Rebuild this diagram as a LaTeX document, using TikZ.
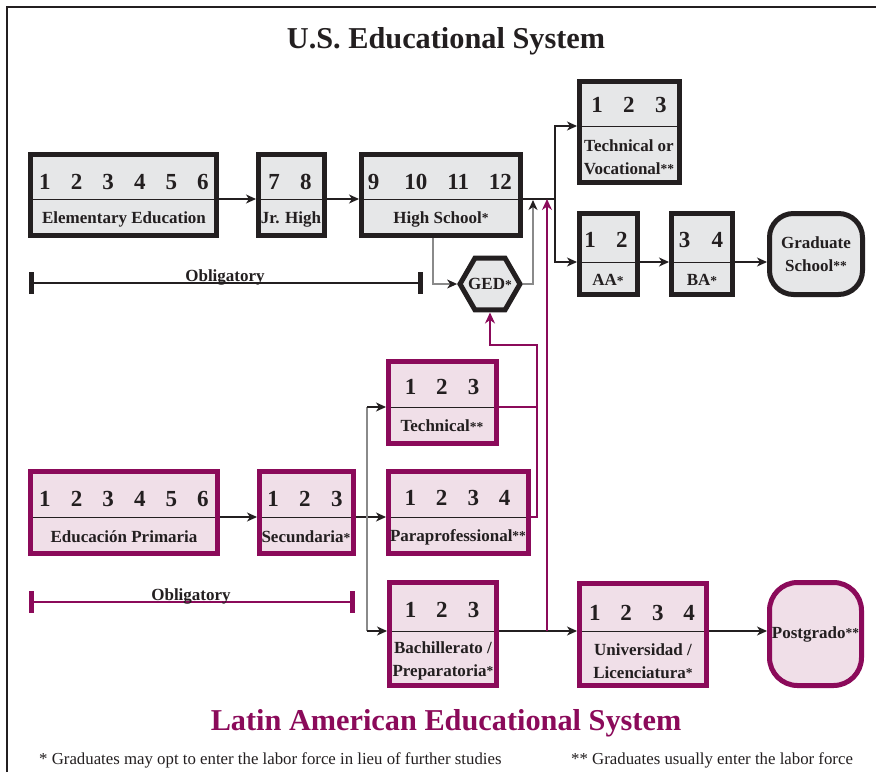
\documentclass[tikz,border=0pt]{standalone}
\usepackage{fontspec}
\setmainfont{Liberation Serif}
\usetikzlibrary{arrows.meta,calc,shapes.geometric}
\definecolor{ink}{HTML}{231F20}
\definecolor{usfill}{HTML}{E6E7E8}
\definecolor{mag}{HTML}{8B0A5A}
\definecolor{lafill}{HTML}{F0DFE8}
\definecolor{lgray}{HTML}{8A8A8A}
\newcommand\nums[2]{\foreach \d in {#2}{\makebox[#1]{\d}}}
\newcommand\astk{{\fontsize{13.5}{13.5}\selectfont\raisebox{0.5pt}{*}}}
\newcommand\mkbox[7]{%
  \node[#1, minimum width={#5-#3-5}, minimum height={#6-#4-5}] (#2) at ({(#3+#5)/2},{(#4+#6)/2}) {};
  \coordinate (#2-w) at (#3,#7);
  \coordinate (#2-e) at (#5,#7);
  \draw[divline] (#2-w) -- (#2-e);
}
\begin{document}
\begin{tikzpicture}[x=1pt,y=-1pt,
  box/.style={line width=5pt, inner sep=0pt, outer sep=2.5pt},
  usbox/.style={box, draw=ink, fill=usfill},
  labox/.style={box, draw=mag, fill=lafill},
  divline/.style={draw=ink, line width=1pt, shorten <=5pt, shorten >=5pt},
  numtxt/.style={font=\fontsize{23}{23}\selectfont\bfseries, text=ink, inner sep=0pt},
  labtxt/.style={font=\fontsize{17}{22.5}\selectfont\bfseries, text=ink, inner sep=0pt, align=center},
  tip/.style={-{Stealth[length=10pt,width=9pt,inset=3pt,color=ink]}},
  conn/.style={draw=ink, line width=1.1pt, tip},
  gconn/.style={draw=lgray, line width=1.1pt},
  mconn/.style={draw=mag, line width=1.3pt},
  mtip/.style={-{Stealth[length=11pt,width=10pt,inset=3.5pt]}},
  oblbar/.style={line width=5pt},
  foot/.style={font=\fontsize{16.8}{16.8}\selectfont, text=ink, anchor=west, inner sep=0pt},
  title/.style={font=\fontsize{30.3}{30.3}\selectfont\bfseries},
]
\useasboundingbox (0,0) rectangle (876,772);
\fill[white] (0,0) rectangle (876,772);
% frame
\draw[ink, line width=2.5pt] (7,772) -- (7,7) -- (876,7);

% titles
\node[title, text=ink] (t1) at (446,41) {U.S. Educational System};
\node[title, text=mag] (t2) at (446,723.5) {Latin American Educational System};

% US boxes
\mkbox{usbox}{elem}{28}{152}{219}{238}{199}
\mkbox{usbox}{jr}{256}{152}{327}{238}{199}
\mkbox{usbox}{hs}{359}{152}{523}{238}{199}
\mkbox{usbox}{tv}{577}{79}{682}{185}{126}
\mkbox{usbox}{aa}{577}{211}{640}{297}{262}
\mkbox{usbox}{ba}{669}{211}{735}{297}{262}
\node[usbox, rounded corners=24pt, minimum width=93, minimum height=81, labtxt] (grad) at (816,254) {Graduate\\School\astk\astk};
\node[usbox, regular polygon, regular polygon sides=6, minimum size=60pt] (ged) at (490,284) {};
\node[labtxt] (ged-l) at (490,284) {GED\astk};

\node[numtxt] (elem-n) at (124,182) {\nums{31.6pt}{1,2,3,4,5,6}};
\node[labtxt] (elem-l) at (124,219) {Elementary Education};
\node[numtxt] (jr-n) at (290,182) {\nums{32pt}{7,8}};
\node[labtxt] (jr-l) at (291,219) {Jr. High};
\node[numtxt] (hs-n) at (437,182) {\nums{42.3pt}{9,10,11,12}};
\node[labtxt] (hs-l) at (441,219) {High School\astk};
\node[numtxt] (tv-n) at (629,105) {\nums{32pt}{1,2,3}};
\node[labtxt] (tv-l) at (629,157) {Technical or\\Vocational\astk\astk};
\node[numtxt] (aa-n) at (606,240) {\nums{32pt}{1,2}};
\node[labtxt] (aa-l) at (608,280) {AA\astk};
\node[numtxt] (ba-n) at (701,240) {\nums{33pt}{3,4}};
\node[labtxt] (ba-l) at (702,280) {BA\astk};

% Latin boxes
\mkbox{labox}{prim}{28}{469}{220}{556}{517}
\mkbox{labox}{sec}{257}{469}{356}{556}{517}
\mkbox{labox}{tech}{386}{359}{499}{446}{407}
\mkbox{labox}{para}{386}{469}{531}{556}{517}
\mkbox{labox}{bach}{387}{580}{499}{688}{631}
\mkbox{labox}{univ}{577}{581}{709}{688}{631}
\node[labox, rounded corners=28pt, minimum width=92, minimum height=103, labtxt] (post) at (815.5,634) {Postgrado\astk\astk};

\node[numtxt] (prim-n) at (124,499) {\nums{31.6pt}{1,2,3,4,5,6}};
\node[labtxt] (prim-l) at (124,537) {Educación Primaria};
\node[numtxt] (sec-n) at (305,499) {\nums{32pt}{1,2,3}};
\node[labtxt] (sec-l) at (306,537) {Secundaria\astk};
\node[numtxt] (tech-n) at (442,387) {\nums{31.5pt}{1,2,3}};
\node[labtxt] (tech-l) at (442,426) {Technical\astk\astk};
\node[numtxt] (para-n) at (457.5,498) {\nums{31.5pt}{1,2,3,4}};
\node[labtxt] (para-l) at (458,537) {Paraprofessional\astk\astk};
\node[numtxt] (bach-n) at (442,610) {\nums{31.5pt}{1,2,3}};
\node[labtxt] (bach-l) at (443,661) {Bachillerato /\\Preparatoria\astk};
\node[numtxt] (univ-n) at (642,613) {\nums{31.5pt}{1,2,3,4}};
\node[labtxt] (univ-l) at (643,661) {Universidad /\\Licenciatura\astk};

% US connectors
\draw[conn] (elem-e) -- (jr-w);
\draw[conn] (jr-e) -- (hs-w);
\coordinate (br) at (555,199);
\draw[ink, line width=1.1pt] (hs-e) -- (br);
\draw[conn] (br) |- (tv-w);
\draw[conn] (br) |- (aa-w);
\draw[conn] (aa-e) -- (ba-w);
\draw[conn] (ba-e) -- (grad.west |- ba-e);
\coordinate (hs-g) at (433,238);
\draw[gconn, tip] (hs-g) |- (ged.west);
\coordinate (ged-up) at (533,200);
\draw[gconn, tip] (ged.east) -| (ged-up);

% Latin connectors
\draw[conn] (prim-e) -- (sec-w);
\draw[conn] (sec-e) -- (para-w);
\coordinate (gt) at (367,407);
\coordinate (gb) at (367,631);
\draw[gconn] (gt) -- (gb);
\draw[conn] (gt) -- (tech-w);
\draw[conn] (gb) -- (bach-w);
\draw[conn] (bach-e) -- (univ-w);
\draw[conn] (univ-e) -- (post.west |- univ-e);
\coordinate (mj) at (537,345);
\draw[mconn] (tech-e) -- (tech-e -| mj);
\draw[mconn, mtip] (para-e) -| (mj) -| (ged.south);
\coordinate (bj) at (547,631);
\coordinate (hsj) at (547,199);
\draw[mconn, mtip] (bj) -- (hsj);

% Obligatory
\coordinate (ob1a) at (31,283);
\coordinate (ob1b) at (420,283);
\draw[ink, line width=1.2pt] (ob1a) -- (ob1b);
\draw[ink, oblbar] ($(ob1a)+(0,-11)$) -- ($(ob1a)+(0,11)$);
\draw[ink, oblbar] ($(ob1b)+(0,-11)$) -- ($(ob1b)+(0,11)$);
\node[labtxt, anchor=base] (ob1t) at (225,281) {Obligatory};
\coordinate (ob2a) at (31,602);
\coordinate (ob2b) at (352,602);
\draw[mag, line width=1.2pt] (ob2a) -- (ob2b);
\draw[mag, oblbar] ($(ob2a)+(0,-11)$) -- ($(ob2a)+(0,11)$);
\draw[mag, oblbar] ($(ob2b)+(0,-11)$) -- ($(ob2b)+(0,11)$);
\node[labtxt, anchor=base] (ob2t) at (191,600) {Obligatory};

% footnotes
\node[foot] (f1) at (39,760) {* Graduates may opt to enter the labor force in lieu of further studies};
\node[foot] (f2) at (571,760) {** Graduates usually enter the labor force};
\end{tikzpicture}
\end{document}
